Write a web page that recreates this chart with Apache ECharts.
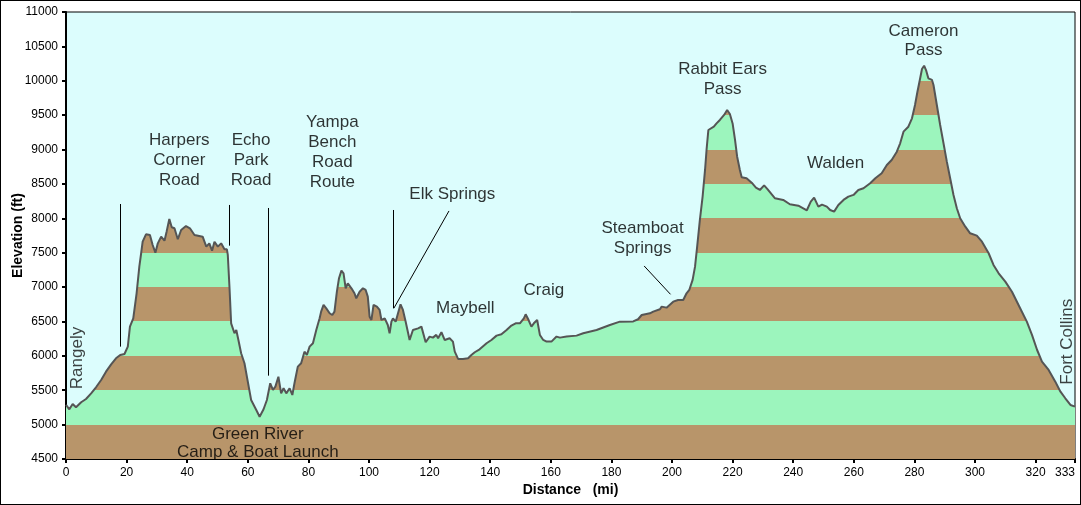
<html>
<head>
<meta charset="utf-8">
<script src="https://cdn.jsdelivr.net/npm/echarts@6.0.0/dist/echarts.min.js"></script>
<style>
    body { margin: 0; background: #fff; }
    #wrap { position: relative; width: 1081px; height: 505px; }
    #chartmain { position: absolute; left: 0; top: 0; width: 1081px; height: 505px; }
    #frame { position: absolute; left: 0; top: 0; width: 1081px; height: 505px; box-sizing: border-box; border: 1px solid #000; pointer-events: none; }
</style>
</head>
<body>
<div id="wrap">
    <div id="chartmain"></div>
    <div id="frame"></div>
</div>
<script type="text/javascript">
    // 剖面数据：里程 (mi) 与海拔 (ft)
    var distMi = [0, 1.1, 2.2, 3.3, 5, 6.6, 8.3, 9.9, 11.6, 13.2, 14.9, 16.5, 17.9, 19.3, 20.4, 21.1, 22.2, 23.3, 24.2, 24.8,
        25.3, 26.4, 27.7, 28.6, 29.5, 30.3, 31.4, 32.5, 33.2, 34.1, 34.9, 35.8, 36.9, 38, 39.6, 40.9, 42.4, 45.1, 46.3, 47.3,
        48.2, 49, 50.1, 51.2, 52.3, 53.1, 53.4, 54, 54.5, 55.6, 56.2, 56.9, 57.8, 58.9, 60, 61.1, 62.8, 63.9, 65.2, 66.3,
        67.4, 68.3, 69.1, 70.1, 71, 71.8, 72.7, 73.8, 74.7, 75.4, 76.5, 77.6, 78.7, 79.5, 80.4, 81.5, 82.6, 83.7, 84.2, 85,
        85.9, 87, 87.9, 88.6, 89.4, 90.1, 90.9, 91.6, 92.3, 93, 94.2, 95.2, 95.8, 96.9, 98, 98.9, 99.6, 100.2, 100.8, 101.5,
        102.6, 103.5, 104.1, 105.2, 106.2, 106.8, 107.4, 107.9, 108.8, 109.3, 110.4, 111.2, 112.1, 113.4, 114.5, 116.2, 117.3, 118.7, 120, 121.1,
        122.2, 122.8, 123.9, 125, 126.6, 127.7, 128.3, 129.4, 131, 132.7, 133.8, 134.9, 136.5, 138.8, 140.4, 142.1, 143.7, 145.4, 147, 148.4,
        149.8, 151.1, 151.7, 152.5, 153.6, 154.4, 155.5, 156.4, 157.5, 158.6, 160.2, 161.9, 163, 165.2, 168.5, 170.7, 175.1, 179.5, 182.8, 187.2,
        188.8, 190, 192.7, 193.8, 196, 196.6, 198.2, 200.4, 202, 203.7, 204.8, 205.7, 206.8, 207.6, 208.3, 209.2, 210.1, 210.9, 211.4, 212,
        212.5, 213.8, 214.7, 215.8, 217.2, 218.2, 219.1, 220, 220.8, 221.5, 222.4, 223, 224.6, 226.3, 227.7, 229, 230.4, 231.5, 234, 236.7,
        238.9, 241.7, 244.5, 245.8, 246.9, 248.3, 249.5, 251.1, 252.2, 253.5, 254.9, 256.6, 258.2, 259.9, 261.5, 263.2, 265.4, 267.1, 269.2, 270.9,
        272.5, 274.2, 275.3, 276.4, 278, 279.2, 280.2, 281, 281.9, 282.5, 283.2, 283.9, 284.6, 285.8, 286.3, 287.4, 288.5, 289.6, 290.7, 291.8,
        292.9, 294, 295.1, 296.8, 298.4, 300.6, 302.3, 304.5, 306.1, 307.8, 310, 312.2, 314.9, 317.1, 318.8, 320.5, 322.1, 324.3, 326.5, 328.2,
        329.8, 331.5, 333];
    var elevFt = [5286, 5223, 5300, 5252, 5325, 5373, 5455, 5543, 5649, 5770, 5877, 5964, 6012, 6027, 6134, 6424, 6546, 6910, 7297, 7492,
        7660, 7767, 7758, 7612, 7500, 7636, 7733, 7675, 7806, 7990, 7869, 7855, 7695, 7830, 7888, 7855, 7758, 7733, 7588, 7636,
        7529, 7660, 7588, 7636, 7549, 7549, 7467, 6958, 6473, 6328, 6376, 6231, 6037, 5892, 5625, 5358, 5213, 5115, 5223, 5358,
        5601, 5504, 5552, 5697, 5455, 5528, 5455, 5528, 5431, 5601, 5843, 5892, 6061, 6013, 6134, 6183, 6376, 6546, 6643, 6740,
        6691, 6619, 6594, 6643, 6933, 7128, 7239, 7200, 6982, 7055, 6982, 6910, 6837, 6933, 6982, 6958, 6861, 6570, 6522, 6740,
        6716, 6667, 6522, 6546, 6449, 6328, 6497, 6546, 6497, 6522, 6750, 6667, 6497, 6231, 6376, 6400, 6425, 6197, 6280, 6265,
        6305, 6255, 6343, 6230, 6255, 6207, 6061, 5955, 5955, 5964, 6013, 6052, 6095, 6183, 6231, 6294, 6313, 6376, 6440, 6473,
        6473, 6546, 6604, 6536, 6425, 6473, 6522, 6304, 6231, 6207, 6207, 6280, 6265, 6280, 6294, 6328, 6376, 6449, 6497, 6500,
        6532, 6594, 6619, 6643, 6677, 6716, 6701, 6788, 6812, 6812, 6910, 6958, 7104, 7297, 7588, 7976, 8315, 8703, 8994, 9284,
        9309, 9332, 9380, 9430, 9503, 9575, 9517, 9380, 9139, 8896, 8703, 8597, 8582, 8518, 8446, 8412, 8480, 8425, 8291, 8267,
        8204, 8184, 8117, 8242, 8300, 8170, 8200, 8170, 8121, 8097, 8194, 8267, 8315, 8340, 8412, 8436, 8509, 8582, 8655, 8775,
        8848, 8969, 9091, 9260, 9332, 9454, 9648, 9841, 10036, 10171, 10219, 10147, 10036, 10012, 9939, 9648, 9357, 9091, 8824, 8582,
        8339, 8146, 8000, 7878, 7782, 7748, 7660, 7492, 7322, 7201, 7079, 6933, 6692, 6497, 6304, 6085, 5915, 5795, 5625, 5479,
        5383, 5286, 5261];

    // 地名标注
    var placeNames = ['Harpers\nCorner\nRoad', 'Echo\nPark\nRoad', 'Yampa\nBench\nRoad\nRoute', 'Elk Springs', 'Maybell', 'Craig',
        'Steamboat\nSprings', 'Rabbit Ears\nPass', 'Walden', 'Cameron\nPass', 'Green River\nCamp & Boat Launch'];
    var placeMi = [37.4, 61.1, 87.9, 127.5, 131.8, 157.7, 190.3, 216.7, 254.0, 283.0, 63.3];
    var placeFt = [8848, 8848, 8964, 8354, 6686, 6958, 7710, 10014, 8794, 10586, 4730];
    var placeLineH = [20, 20, 20, 20, 20, 20, 20, 20, 20, 19, 18];

    // 竖排端点地名
    var endNames = ['Rangely', 'Fort Collins'];
    var endMi = [3.6, 330.3];
    var endFt = [5969, 6206];

    // 指引线 [起点, 终点]
    var leaderFrom = [[18.0, 6134], [54.0, 7602], [66.9, 5712], [107.9, 6692], [108.2, 6692], [199.5, 6895]];
    var leaderTo = [[18.0, 8208], [54.0, 8194], [66.9, 8150], [107.9, 8121], [126.4, 8107], [190.8, 7307]];

    // 海拔色带
    var bandStep = 500;
    var bandColors = ['#b8956a', '#9cf5bd'];

    window.onload = function () {
        var font = 'Liberation Sans, Arial, sans-serif';
        var profile = distMi.map(function (d, i) { return [d, elevFt[i]]; });
        var places = placeNames.map(function (n, i) {
            return { name: n, value: [placeMi[i], placeFt[i]], label: { lineHeight: placeLineH[i] } };
        });
        var ends = endNames.map(function (n, i) {
            return { name: n, value: [endMi[i], endFt[i]] };
        });
        var leaders = leaderFrom.map(function (p, i) {
            return [{ coord: p }, { coord: leaderTo[i] }];
        });
        var plain = function (v) { return String(v); };

        var option = {
            animation: false,
            backgroundColor: '#fff',
            grid: {
                left: 66, right: 6, top: 12, bottom: 46,
                show: true, backgroundColor: '#dcfdfd', borderColor: '#000', borderWidth: 1,
                outerBoundsMode: 'none'
            },
            xAxis: {
                type: 'value', min: 0, max: 333, interval: 20,
                name: 'Distance   (mi)', nameLocation: 'middle', nameGap: 24, nameMoveOverlap: false,
                nameTextStyle: { color: '#000', fontWeight: 'bold', fontSize: 14, fontFamily: font },
                axisLine: { lineStyle: { color: '#000', width: 2 } },
                axisTick: { length: 4, lineStyle: { color: '#000', width: 2 } },
                axisLabel: { color: '#000', fontSize: 12, fontFamily: font, margin: 8, formatter: plain, showMaxLabel: true, alignMaxLabel: 'right' },
                splitLine: { show: false }
            },
            yAxis: {
                type: 'value', min: 4500, max: 11000, interval: 500,
                name: 'Elevation (ft)', nameLocation: 'middle', nameGap: 41, nameMoveOverlap: false,
                nameTextStyle: { color: '#000', fontWeight: 'bold', fontSize: 14, fontFamily: font },
                axisLine: { show: true, lineStyle: { color: '#000', width: 2 } },
                axisTick: { show: true, length: 4, lineStyle: { color: '#000', width: 2 } },
                axisLabel: { color: '#000', fontSize: 12, fontFamily: font, margin: 8, formatter: plain },
                splitLine: { show: false }
            },
            series: [{
                id: 'profile',
                type: 'line',
                data: profile,
                showSymbol: false,
                lineStyle: { color: '#555', width: 2 },
                areaStyle: { color: bandColors[0], opacity: 1 },
                z: 2
            }, {
                type: 'scatter',
                data: places,
                symbolSize: 0,
                silent: true,
                label: {
                    show: true, position: [0, 0], formatter: '{b}', color: '#000',
                    textBorderWidth: 0, fontSize: 17, fontFamily: font, align: 'center', verticalAlign: 'middle'
                },
                markLine: {
                    silent: true, symbol: 'none', animation: false,
                    label: { show: false },
                    lineStyle: { color: '#000', width: 1, type: 'solid' },
                    data: leaders
                },
                z: 4
            }, {
                type: 'scatter',
                data: ends,
                symbolSize: 0,
                silent: true,
                label: {
                    show: true, position: [0, 0], formatter: '{b}', color: '#111', rotate: 90,
                    textBorderWidth: 0, fontSize: 17, fontFamily: font, align: 'center', verticalAlign: 'middle'
                },
                z: 4
            }]
        };

        var myChart = echarts.init(document.getElementById('chartmain'));
        myChart.setOption(option);

        // 用坐标轴换算色带渐变的像素位置
        var yMin = option.yAxis.min, yMax = option.yAxis.max;
        var yBot = myChart.convertToPixel({ yAxisIndex: 0 }, yMin);
        var yTop = myChart.convertToPixel({ yAxisIndex: 0 }, yMax);
        var stops = [];
        for (var v = yMin, k = 0; v < yMax; v += bandStep, k++) {
            var c = bandColors[k % 2];
            stops.push({ offset: (v - yMin) / (yMax - yMin), color: c });
            stops.push({ offset: (v + bandStep - yMin) / (yMax - yMin), color: c });
        }
        myChart.setOption({
            series: [{
                id: 'profile',
                areaStyle: {
                    opacity: 1,
                    color: { type: 'linear', x: 0, y: yBot, x2: 0, y2: yTop, global: true, colorStops: stops }
                }
            }]
        });
    };
</script>
</body>
</html>
